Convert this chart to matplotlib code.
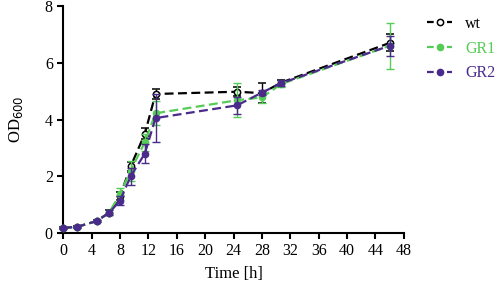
import numpy as np
import matplotlib
matplotlib.use("Agg")
import matplotlib.pyplot as plt
from matplotlib.lines import Line2D

plt.rcParams['font.family'] = ['Liberation Serif', 'DejaVu Serif']

time_h = [0, 2, 4.7, 6.5, 8, 9.5, 11.5, 13, 24.5, 28, 30.7, 46]

wt = [0.18, 0.22, 0.42, 0.72, 1.3, 2.35, 3.5, 4.9, 4.98, 4.93, 5.3, 6.7]
wt_err = [0.03, 0.03, 0.05, 0.08, 0.15, 0.15, 0.2, 0.18, 0.15, 0.35, 0.1, 0.3]

gr1 = [0.18, 0.22, 0.42, 0.72, 1.38, 2.2, 3.2, 4.22, 4.68, 4.78, 5.25, 6.6]
gr1_err = [0.03, 0.03, 0.05, 0.08, 0.2, 0.35, 0.3, 0.42, 0.6, 0.2, 0.1, 0.82]

gr2 = [0.18, 0.22, 0.42, 0.72, 1.14, 2.0, 2.8, 4.05, 4.5, 4.95, 5.28, 6.6]
gr2_err = [0.03, 0.03, 0.05, 0.1, 0.15, 0.3, 0.32, 0.85, 0.3, 0.1, 0.1, 0.35]

labels = ['wt', 'GR1', 'GR2']
green = '#55cc55'
purple = '#4a2a8a'

fig = plt.figure(figsize=(4.98, 2.88), dpi=100)
ax = fig.add_axes([0.127, 0.191, 0.684, 0.788])

style = dict(ls='--', lw=1.6, dashes=(4, 2), ms=4.5, capsize=3,
             elinewidth=1, capthick=1, marker='o')
ax.errorbar(time_h, wt, yerr=wt_err, color='black', mfc='white', mec='black',
            mew=1.1, zorder=2, **style)
ax.errorbar(time_h, gr1, yerr=gr1_err, color=green, zorder=3, **style)
ax.errorbar(time_h, gr2, yerr=gr2_err, color=purple, zorder=4, **style)

ax.set_xlim(0, 48)
ax.set_ylim(0, 8)
ax.set_xticks(np.arange(0, 49, 4))
ax.set_yticks(np.arange(0, 9, 2))
ax.spines['top'].set_visible(False)
ax.spines['right'].set_visible(False)
for s in ['left', 'bottom']:
    ax.spines[s].set_linewidth(1.5)
ax.tick_params(width=1.5, length=4, labelsize=11.5)
ax.set_xlabel('Time [h]', fontsize=12, labelpad=5)
ax.set_ylabel('OD$_{600}$', fontsize=12, labelpad=14)
for line in ax.get_lines():
    line.set_clip_on(False)

handles = [
    Line2D([], [], color='black', ls='--', lw=1.6, dashes=(3, 1.5), marker='o',
           ms=4.5, mfc='white', mec='black', mew=1.1),
    Line2D([], [], color=green, ls='--', lw=1.6, dashes=(3, 1.5), marker='o', ms=4.5),
    Line2D([], [], color=purple, ls='--', lw=1.6, dashes=(3, 1.5), marker='o', ms=4.5),
]
leg = fig.legend(handles, labels, loc='upper left', bbox_to_anchor=(0.857, 0.945),
                 frameon=False, fontsize=11.5, handlelength=1.6, handletextpad=0.8,
                 labelspacing=0.55, borderpad=0, borderaxespad=0)
for text, c in zip(leg.get_texts(), ['black', green, purple]):
    text.set_color(c)

fig.savefig('out.png', dpi=100)
